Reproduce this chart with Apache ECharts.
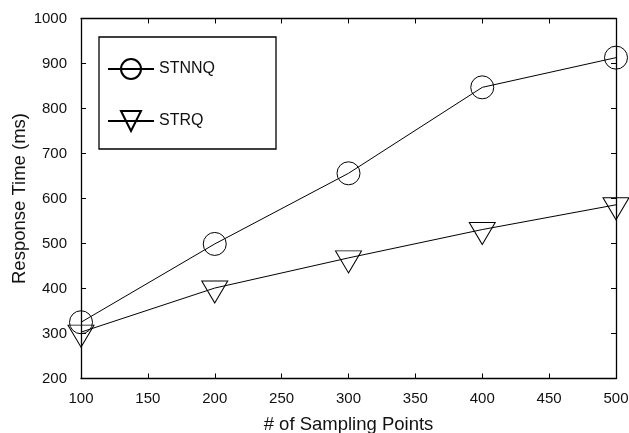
<!DOCTYPE html>
<html lang="en">
<head>
  <meta charset="UTF-8">
  <title>Response Time vs Sampling Points</title>
  <script src="https://cdn.jsdelivr.net/npm/echarts@6/dist/echarts.min.js"></script>
  <style>
    body { margin: 0; background: #fff; }
    #chart { width: 629px; height: 433px; }
  </style>
</head>
<body>
  <div id="chart"></div>
  <script>
    // values
    const samplingPoints = [100, 200, 300, 400, 500];
    const stnnq = [325, 499, 656, 847, 913];
    const strq = [303, 401, 468, 531, 586];

    const chart = echarts.init(document.getElementById('chart'));
    const font = 'Liberation Sans, Arial, sans-serif';

    const pairs = arr => samplingPoints.map((x, i) => [x, arr[i]]);

    // secondary axes only draw the frame + inward ticks
    const frameAxis = {
      axisLine: { show: true, lineStyle: { color: '#000', width: 1.3 } },
      axisTick: { show: true, inside: true, length: 5, lineStyle: { color: '#000' } },
      axisLabel: { show: false },
      splitLine: { show: false }
    };

    chart.setOption({
      animation: false,
      grid: { left: 81, right: 13, top: 18.5, bottom: 54.5, outerBoundsMode: 'none', containLabel: false },
      legend: {
        orient: 'vertical',
        left: 99,
        top: 37,
        padding: [21, 61, 17, 8],
        itemGap: 30,
        itemWidth: 46,
        itemHeight: 25,
        borderColor: '#000',
        borderWidth: 1.3,
        textStyle: { fontFamily: font, fontSize: 16, color: '#111' },
        data: ['STNNQ', 'STRQ']
      },
      xAxis: [
        {
          type: 'value', min: 100, max: 500, interval: 50,
          name: '# of Sampling Points', nameLocation: 'middle', nameGap: 37,
          nameMoveOverlap: false,
          nameTextStyle: { fontFamily: font, fontSize: 18.5, color: '#111' },
          axisLine: { lineStyle: { color: '#000', width: 1.3 } },
          axisTick: { inside: true, length: 5, lineStyle: { color: '#000' } },
          axisLabel: { fontFamily: font, fontSize: 15, color: '#111', margin: 13 },
          splitLine: { show: false }
        },
        Object.assign({ type: 'value', position: 'top', min: 100, max: 500, interval: 50 }, frameAxis)
      ],
      yAxis: [
        {
          type: 'value', min: 200, max: 1000, interval: 100,
          name: 'Response Time (ms)', nameLocation: 'middle', nameGap: 52,
          nameMoveOverlap: false,
          nameTextStyle: { fontFamily: font, fontSize: 18.5, color: '#111' },
          axisLine: { show: true, lineStyle: { color: '#000', width: 1.3 } },
          axisTick: { show: true, inside: true, length: 5, lineStyle: { color: '#000' } },
          axisLabel: { fontFamily: font, fontSize: 15, color: '#111', margin: 14, formatter: v => String(v) },
          splitLine: { show: false }
        },
        Object.assign({ type: 'value', position: 'right', min: 200, max: 1000, interval: 100 }, frameAxis)
      ],
      series: [
        {
          name: 'STNNQ',
          type: 'line',
          data: pairs(stnnq),
          symbol: 'circle',
          symbolSize: 23,
          lineStyle: { color: '#000', width: 1 },
          itemStyle: { color: 'transparent', borderColor: '#000', borderWidth: 1 }
        },
        {
          name: 'STRQ',
          type: 'line',
          data: pairs(strq),
          symbol: 'triangle',
          symbolRotate: 180,
          symbolSize: [26, 22],
          symbolOffset: [0, 4],
          lineStyle: { color: '#000', width: 1 },
          itemStyle: { color: 'transparent', borderColor: '#000', borderWidth: 1 }
        }
      ]
    });
  </script>
</body>
</html>
